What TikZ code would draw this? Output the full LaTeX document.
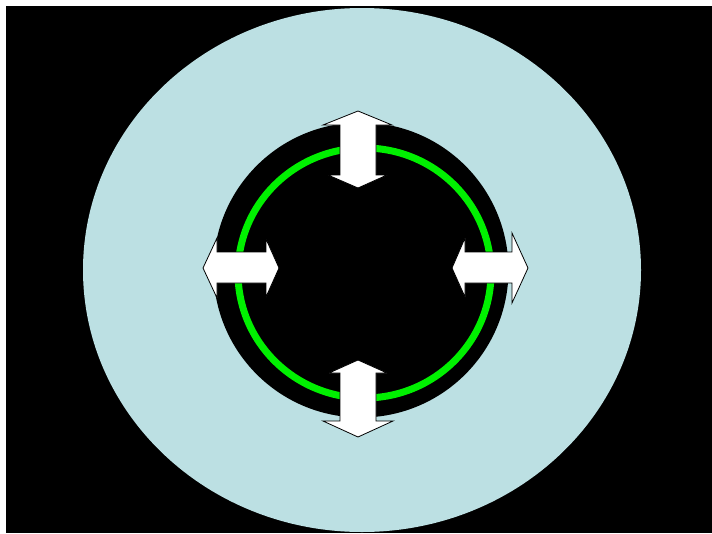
\documentclass[tikz,border=0pt]{standalone}
\usepackage{tikz}
\definecolor{RingBlue}{HTML}{BCE0E3}
\definecolor{RingGreen}{HTML}{00F000}

\begin{document}
\begin{tikzpicture}[x=1pt,y=-1pt,
    flowarrow/.style={fill=white,draw=black,line width=0.8pt,line join=miter}]
      \useasboundingbox (0,0) rectangle (712,533);
      \fill[white] (0,0) rectangle (712,533);
      \fill[black] (6,6) rectangle (712,533);
      \fill[RingBlue] (362,270) ellipse [x radius=279,y radius=262];
      \fill[black] (361,270) circle [radius=147.5];
      \draw[RingGreen,line width=7pt] (364.5,273) ellipse [x radius=126.5,y radius=125];
      % top and bottom
      \draw[flowarrow] (358,111) -- (392,125) -- (376,125) -- (376,175) -- (387,175) -- (358,188)
        -- (328,175) -- (340,175) -- (340,125) -- (323,125) -- cycle;
      \draw[flowarrow] (358,360) -- (387,373) -- (376,373) -- (376,421) -- (393,421) -- (358,437)
        -- (323,421) -- (340,421) -- (340,373) -- (329,373) -- cycle;
      % left and right
      \draw[flowarrow] (203,268) -- (217,238) -- (217,252) -- (266,252) -- (266,239) -- (279,268)
        -- (266,297) -- (266,283) -- (217,283) -- (217,298) -- cycle;
      \draw[flowarrow] (452,268) -- (465,238) -- (465,252) -- (512,252) -- (512,233) -- (528,268)
        -- (512,303) -- (512,283) -- (465,283) -- (465,297) -- cycle;
    \end{tikzpicture}
\end{document}
